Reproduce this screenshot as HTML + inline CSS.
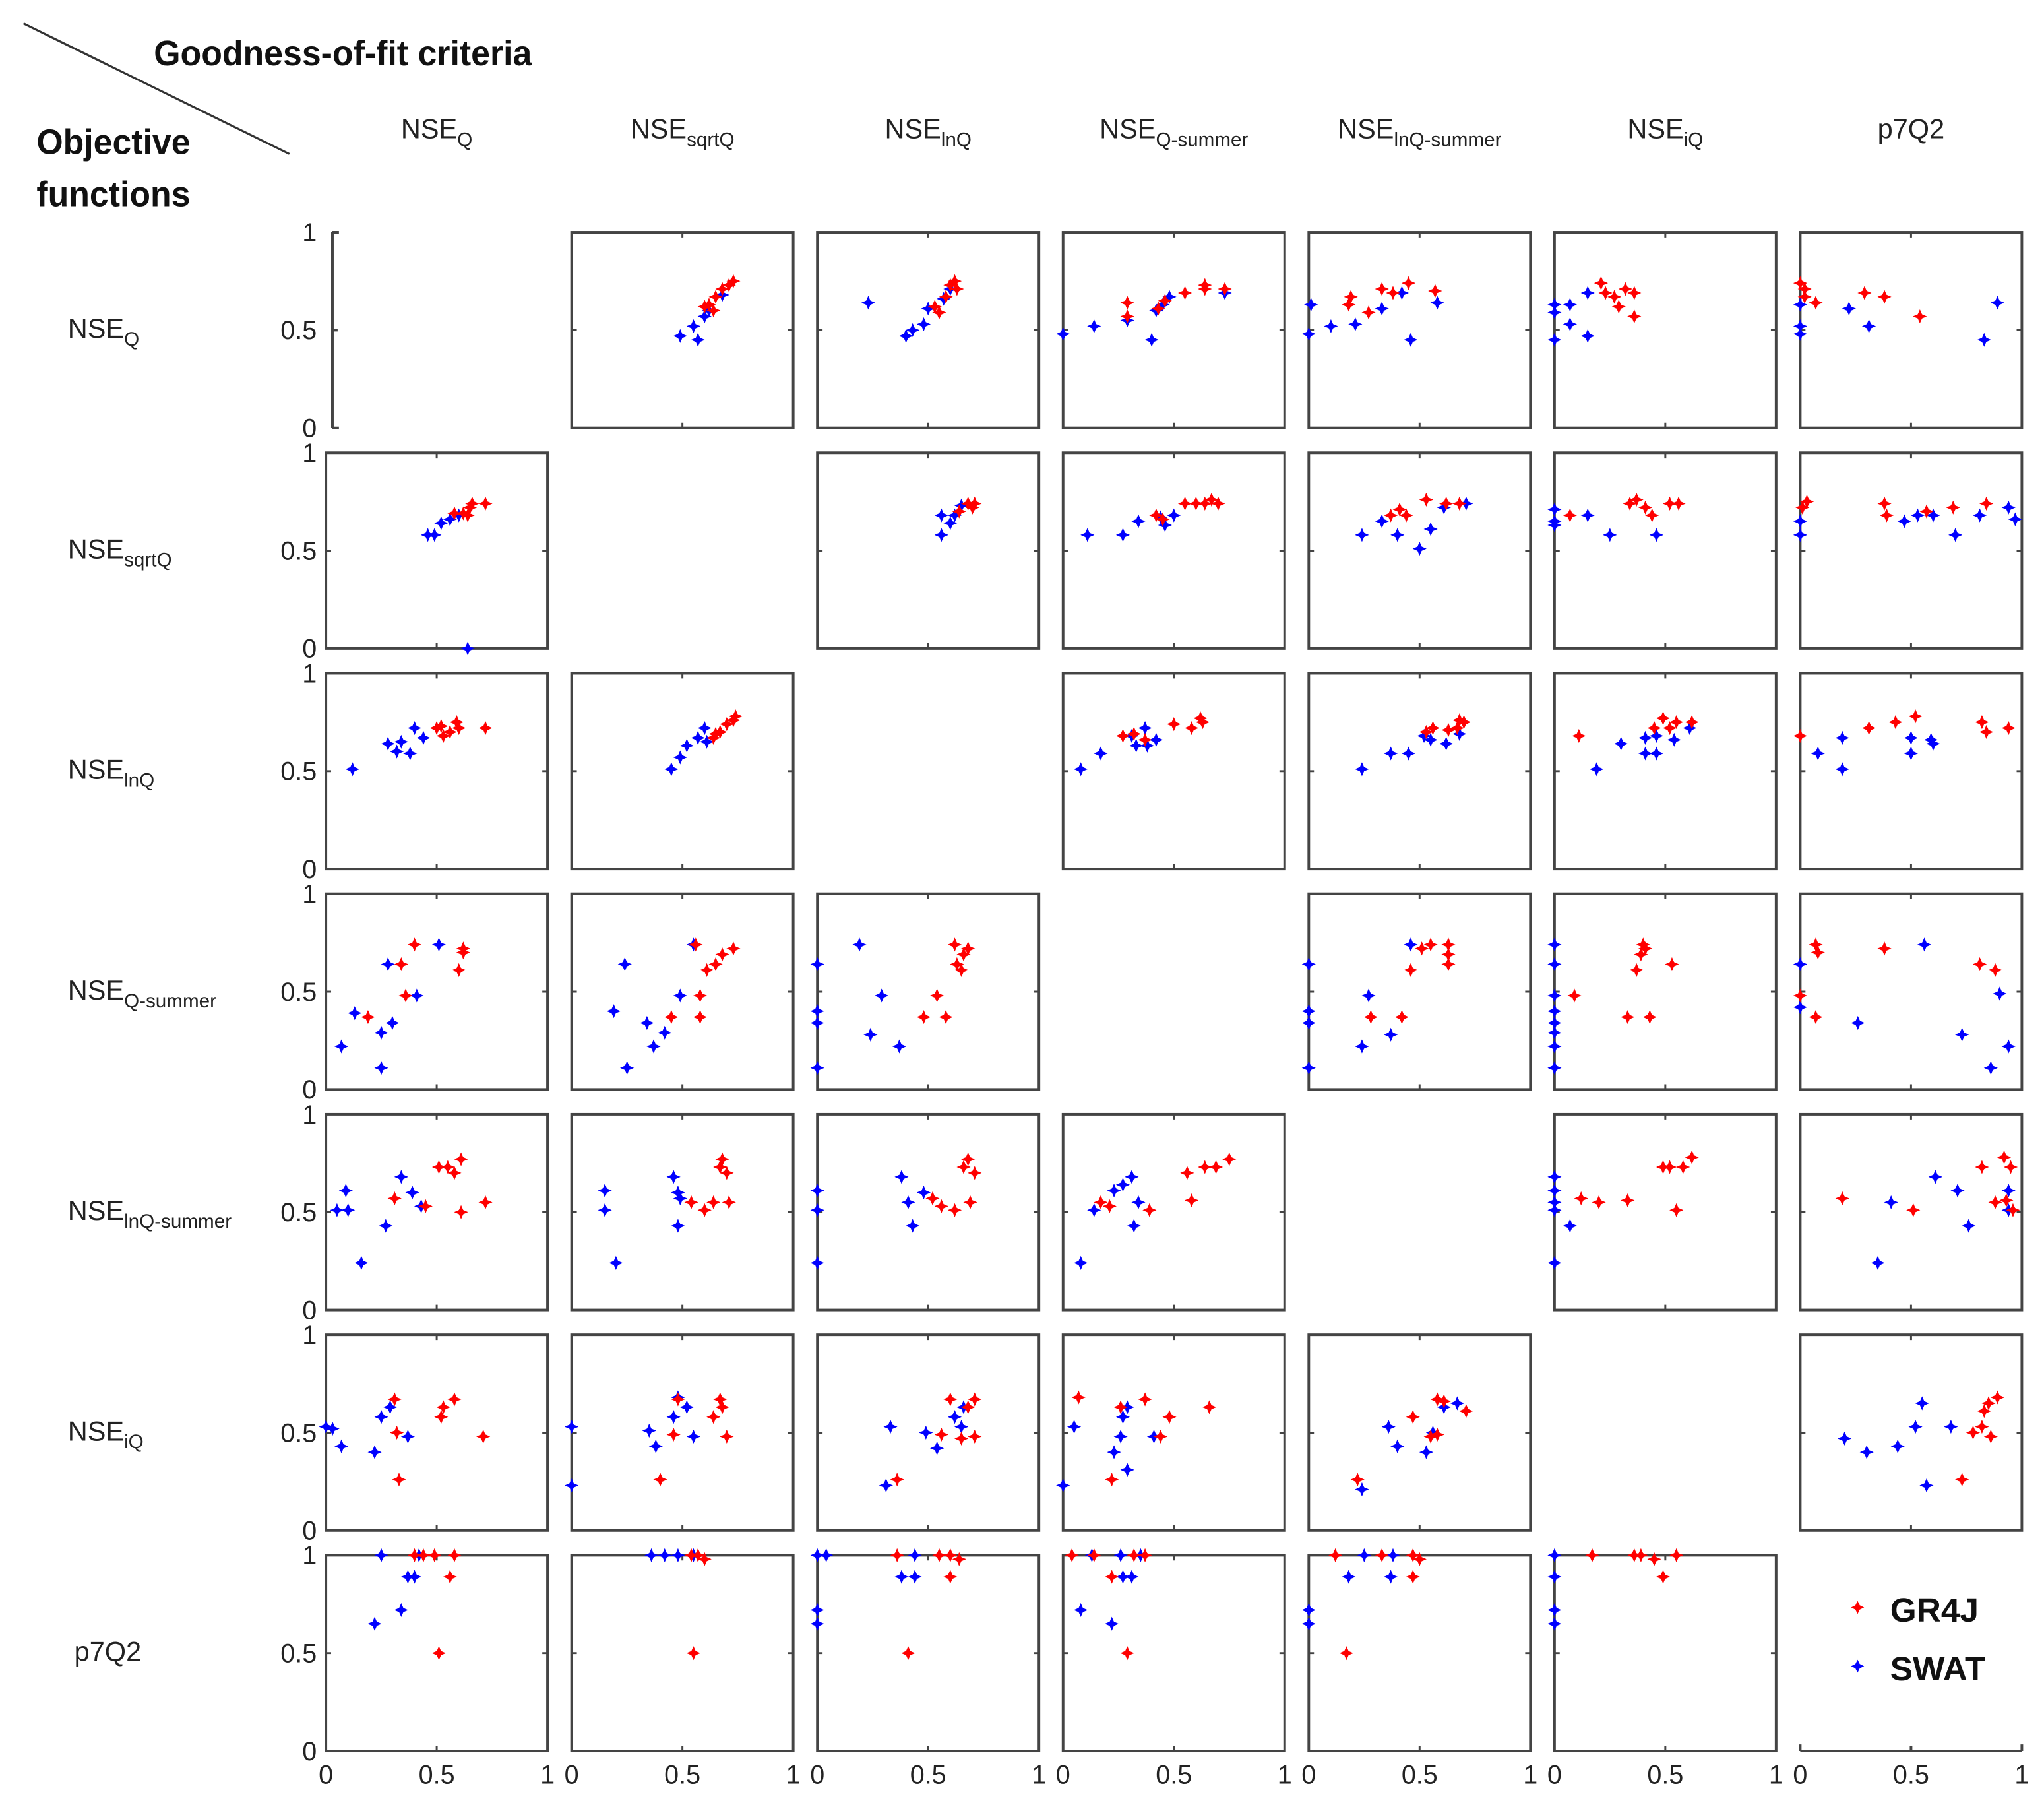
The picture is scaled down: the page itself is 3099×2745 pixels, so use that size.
<!DOCTYPE html>
<html><head><meta charset="utf-8"><style>html,body{margin:0;padding:0;background:#fff}svg{display:block}</style></head>
<body>
<svg id="chart" xmlns="http://www.w3.org/2000/svg" width="3099" height="2745" viewBox="0 0 1568 1388" preserveAspectRatio="none" font-family="'Liberation Sans', sans-serif">
<rect width="1568" height="1388" fill="#fff"/>
<line x1="18" y1="18" x2="222" y2="118" stroke="#333" stroke-width="1.6"/>
<text x="118" y="50" font-size="27" font-weight="bold" fill="#111" textLength="290" lengthAdjust="spacingAndGlyphs">Goodness-of-fit criteria</text>
<text x="28" y="118" font-size="27" font-weight="bold" fill="#111" textLength="118" lengthAdjust="spacingAndGlyphs">Objective</text>
<text x="28" y="158" font-size="27" font-weight="bold" fill="#111" textLength="118" lengthAdjust="spacingAndGlyphs">functions</text>
<g id="plots"></g>
<g>
<path d="M1425,1227 L1427.5,1232 L1425,1237 L1422.5,1232 Z M1420,1232 L1425,1229.5 L1430,1232 L1425,1234.5 Z" fill="#f00"/>
<text x="1450" y="1243" font-size="26" font-weight="bold" fill="#111">GR4J</text>
<path d="M1425,1272 L1427.5,1277 L1425,1282 L1422.5,1277 Z M1420,1277 L1425,1274.5 L1430,1277 L1425,1279.5 Z" fill="#00f"/>
<text x="1450" y="1288" font-size="26" font-weight="bold" fill="#111">SWAT</text>
</g>
</svg>
<script>
const rowNames = [["NSE","Q"],["NSE","sqrtQ"],["NSE","lnQ"],["NSE","Q-summer"],["NSE","lnQ-summer"],["NSE","iQ"],["p7Q2",""]];
const xTicks = [0, 0.5, 1];
const xTickLabels = ["0", "0.5", "1"];
const yTickLabels = ["0", "0.5", "1"];

const p12_red=[[0.71,0.73],[0.68,0.71],[0.65,0.67],[0.62,0.63],[0.64,0.6],[0.6,0.62],[0.73,0.75]];
const p12_blue=[[0.49,0.47],[0.55,0.52],[0.57,0.45],[0.62,0.6],[0.68,0.68],[0.6,0.57]];
const p13_red=[[0.55,0.59],[0.58,0.67],[0.6,0.73],[0.63,0.71],[0.53,0.62],[0.62,0.75]];
const p13_blue=[[0.23,0.64],[0.4,0.47],[0.43,0.5],[0.48,0.53],[0.5,0.61],[0.57,0.66],[0.6,0.71]];
const p14_red=[[0.29,0.64],[0.29,0.57],[0.46,0.65],[0.55,0.69],[0.64,0.71],[0.64,0.73],[0.73,0.71],[0.43,0.61]];
const p14_blue=[[0,0.48],[0.14,0.52],[0.29,0.55],[0.4,0.45],[0.42,0.6],[0.45,0.63],[0.48,0.67],[0.73,0.69]];
const p15_red=[[0.18,0.63],[0.19,0.67],[0.33,0.71],[0.38,0.69],[0.45,0.74],[0.57,0.7],[0.27,0.59]];
const p15_blue=[[0,0.48],[0.01,0.63],[0.1,0.52],[0.21,0.53],[0.33,0.61],[0.42,0.69],[0.46,0.45],[0.58,0.64]];
const p16_red=[[0.21,0.74],[0.23,0.69],[0.27,0.67],[0.29,0.62],[0.36,0.69],[0.36,0.57],[0.32,0.71]];
const p16_blue=[[0,0.63],[0,0.59],[0,0.45],[0.07,0.63],[0.07,0.53],[0.15,0.47],[0.15,0.69]];
const p17_red=[[0,0.74],[0.02,0.71],[0.07,0.64],[0.02,0.67],[0.29,0.69],[0.38,0.67],[0.54,0.57]];
const p17_blue=[[0,0.63],[0,0.52],[0,0.48],[0.22,0.61],[0.31,0.52],[0.83,0.45],[0.89,0.64]];

const p21_red=[[0.58,0.69],[0.62,0.69],[0.65,0.72],[0.66,0.74],[0.72,0.74],[0.64,0.68]];
const p21_blue=[[0.46,0.58],[0.49,0.58],[0.52,0.64],[0.56,0.66],[0.6,0.68],[0.64,0]];
const p23_red=[[0.68,0.74],[0.71,0.74],[0.7,0.72],[0.64,0.7]];
const p23_blue=[[0.56,0.58],[0.56,0.68],[0.6,0.64],[0.62,0.68],[0.65,0.73]];
const p24_red=[[0.42,0.68],[0.45,0.66],[0.55,0.74],[0.6,0.74],[0.64,0.74],[0.7,0.74],[0.67,0.76]];
const p24_blue=[[0.11,0.58],[0.27,0.58],[0.34,0.65],[0.44,0.67],[0.5,0.68],[0.46,0.63]];
const p25_red=[[0.37,0.68],[0.44,0.68],[0.53,0.76],[0.62,0.74],[0.68,0.74],[0.41,0.71]];
const p25_blue=[[0.24,0.58],[0.33,0.65],[0.4,0.58],[0.5,0.51],[0.55,0.61],[0.61,0.72],[0.71,0.74]];
const p26_red=[[0.07,0.68],[0.34,0.74],[0.37,0.76],[0.41,0.72],[0.44,0.68],[0.52,0.74],[0.56,0.74]];
const p26_blue=[[0,0.71],[0,0.65],[0,0.63],[0.15,0.68],[0.25,0.58],[0.46,0.58]];
const p27_red=[[0.01,0.72],[0.03,0.75],[0.38,0.74],[0.39,0.68],[0.57,0.7],[0.69,0.72],[0.84,0.74]];
const p27_blue=[[0,0.65],[0,0.58],[0.47,0.65],[0.53,0.68],[0.6,0.68],[0.7,0.58],[0.81,0.68],[0.94,0.72],[0.97,0.66]];

const p31_red=[[0.5,0.72],[0.53,0.68],[0.56,0.7],[0.59,0.75],[0.6,0.72],[0.72,0.72],[0.52,0.73]];
const p31_blue=[[0.12,0.51],[0.28,0.64],[0.32,0.6],[0.38,0.59],[0.34,0.65],[0.4,0.72],[0.44,0.67]];
const p32_red=[[0.64,0.67],[0.67,0.7],[0.7,0.74],[0.73,0.76],[0.74,0.78],[0.65,0.69]];
const p32_blue=[[0.45,0.51],[0.49,0.57],[0.52,0.63],[0.57,0.67],[0.6,0.72],[0.61,0.65]];
const p34_red=[[0.27,0.68],[0.32,0.69],[0.37,0.66],[0.5,0.74],[0.58,0.72],[0.63,0.75],[0.62,0.77]];
const p34_blue=[[0.08,0.51],[0.17,0.59],[0.31,0.68],[0.33,0.63],[0.37,0.72],[0.38,0.63],[0.42,0.66]];
const p35_red=[[0.53,0.7],[0.56,0.72],[0.63,0.71],[0.68,0.76],[0.7,0.75],[0.67,0.72]];
const p35_blue=[[0.24,0.51],[0.37,0.59],[0.45,0.59],[0.52,0.68],[0.55,0.66],[0.62,0.64],[0.68,0.69]];
const p36_red=[[0.11,0.68],[0.45,0.72],[0.49,0.77],[0.52,0.72],[0.55,0.75],[0.62,0.75]];
const p36_blue=[[0.19,0.51],[0.3,0.64],[0.41,0.59],[0.46,0.59],[0.41,0.67],[0.46,0.68],[0.54,0.66],[0.61,0.72]];
const p37_red=[[0,0.68],[0.31,0.72],[0.43,0.75],[0.52,0.78],[0.82,0.75],[0.84,0.7],[0.94,0.72]];
const p37_blue=[[0.08,0.59],[0.19,0.51],[0.19,0.67],[0.5,0.59],[0.5,0.67],[0.59,0.66],[0.6,0.64]];

const p41_red=[[0.19,0.37],[0.34,0.64],[0.36,0.48],[0.4,0.74],[0.6,0.61],[0.62,0.7],[0.62,0.72]];
const p41_blue=[[0.07,0.22],[0.13,0.39],[0.25,0.29],[0.25,0.11],[0.28,0.64],[0.3,0.34],[0.41,0.48],[0.51,0.74]];
const p42_red=[[0.45,0.37],[0.58,0.48],[0.58,0.37],[0.61,0.61],[0.65,0.64],[0.68,0.69],[0.73,0.72],[0.56,0.74]];
const p42_blue=[[0.19,0.4],[0.24,0.64],[0.25,0.11],[0.34,0.34],[0.37,0.22],[0.42,0.29],[0.49,0.48],[0.55,0.74]];
const p43_red=[[0.48,0.37],[0.54,0.48],[0.58,0.37],[0.62,0.74],[0.65,0.61],[0.66,0.69],[0.68,0.72],[0.63,0.64]];
const p43_blue=[[0,0.64],[0,0.4],[0,0.34],[0,0.11],[0.19,0.74],[0.24,0.28],[0.29,0.48],[0.37,0.22]];
const p45_red=[[0.28,0.37],[0.42,0.37],[0.46,0.61],[0.51,0.72],[0.55,0.74],[0.63,0.74],[0.63,0.64],[0.63,0.69]];
const p45_blue=[[0,0.64],[0,0.4],[0,0.34],[0,0.11],[0.24,0.22],[0.27,0.48],[0.37,0.28],[0.46,0.74]];
const p46_red=[[0.09,0.48],[0.33,0.37],[0.39,0.69],[0.4,0.74],[0.41,0.72],[0.43,0.37],[0.37,0.61],[0.53,0.64]];
const p46_blue=[[0,0.74],[0,0.64],[0,0.48],[0,0.4],[0,0.34],[0,0.29],[0,0.22],[0,0.11]];
const p47_red=[[0,0.48],[0.07,0.74],[0.08,0.7],[0.07,0.37],[0.38,0.72],[0.81,0.64],[0.88,0.61]];
const p47_blue=[[0,0.64],[0,0.42],[0.26,0.34],[0.56,0.74],[0.73,0.28],[0.86,0.11],[0.9,0.49],[0.94,0.22]];

const p51_red=[[0.31,0.57],[0.45,0.53],[0.51,0.73],[0.55,0.73],[0.58,0.7],[0.61,0.77],[0.61,0.5],[0.72,0.55]];
const p51_blue=[[0.05,0.51],[0.09,0.61],[0.1,0.51],[0.16,0.24],[0.27,0.43],[0.34,0.68],[0.39,0.6],[0.43,0.53]];
const p52_red=[[0.54,0.55],[0.6,0.51],[0.67,0.73],[0.68,0.77],[0.7,0.7],[0.71,0.55],[0.64,0.55]];
const p52_blue=[[0.15,0.61],[0.15,0.51],[0.2,0.24],[0.46,0.68],[0.48,0.6],[0.48,0.43],[0.49,0.57]];
const p53_red=[[0.52,0.57],[0.56,0.53],[0.62,0.51],[0.66,0.73],[0.68,0.77],[0.71,0.7],[0.69,0.55]];
const p53_blue=[[0,0.61],[0,0.51],[0,0.24],[0.38,0.68],[0.41,0.55],[0.43,0.43],[0.48,0.6]];
const p54_red=[[0.17,0.55],[0.21,0.53],[0.39,0.51],[0.56,0.7],[0.58,0.56],[0.64,0.73],[0.69,0.73],[0.75,0.77]];
const p54_blue=[[0.08,0.24],[0.14,0.51],[0.23,0.61],[0.27,0.64],[0.31,0.68],[0.34,0.55],[0.32,0.43]];
const p56_red=[[0.12,0.57],[0.2,0.55],[0.33,0.56],[0.49,0.73],[0.52,0.73],[0.55,0.51],[0.58,0.73],[0.62,0.78]];
const p56_blue=[[0,0.68],[0,0.61],[0,0.55],[0,0.51],[0,0.24],[0.07,0.43]];
const p57_red=[[0.19,0.57],[0.51,0.51],[0.82,0.73],[0.88,0.55],[0.92,0.78],[0.95,0.73],[0.96,0.51],[0.93,0.56]];
const p57_blue=[[0.35,0.24],[0.41,0.55],[0.61,0.68],[0.71,0.61],[0.76,0.43],[0.94,0.61],[0.94,0.51]];

const p61_red=[[0.31,0.67],[0.32,0.5],[0.33,0.26],[0.52,0.58],[0.53,0.63],[0.58,0.67],[0.71,0.48]];
const p61_blue=[[0,0.53],[0.03,0.52],[0.07,0.43],[0.22,0.4],[0.25,0.58],[0.29,0.63],[0.37,0.48]];
const p62_red=[[0.4,0.26],[0.46,0.49],[0.48,0.67],[0.64,0.58],[0.67,0.67],[0.68,0.63],[0.7,0.48]];
const p62_blue=[[0,0.53],[0,0.23],[0.35,0.51],[0.38,0.43],[0.46,0.58],[0.48,0.68],[0.52,0.63],[0.55,0.48]];
const p63_red=[[0.36,0.26],[0.56,0.49],[0.6,0.67],[0.65,0.47],[0.68,0.63],[0.71,0.67],[0.71,0.48]];
const p63_blue=[[0.31,0.23],[0.33,0.53],[0.49,0.5],[0.54,0.42],[0.62,0.58],[0.65,0.53],[0.66,0.63]];
const p64_red=[[0.07,0.68],[0.22,0.26],[0.26,0.63],[0.37,0.67],[0.44,0.48],[0.48,0.58],[0.66,0.63]];
const p64_blue=[[0,0.23],[0.05,0.53],[0.23,0.4],[0.26,0.48],[0.27,0.58],[0.29,0.63],[0.41,0.48],[0.29,0.31]];
const p65_red=[[0.22,0.26],[0.47,0.58],[0.55,0.48],[0.58,0.67],[0.61,0.66],[0.71,0.61],[0.58,0.49]];
const p65_blue=[[0.24,0.21],[0.36,0.53],[0.4,0.43],[0.53,0.4],[0.56,0.5],[0.61,0.63],[0.67,0.65]];
const p67_red=[[0.73,0.26],[0.78,0.5],[0.82,0.53],[0.83,0.61],[0.86,0.48],[0.85,0.65],[0.89,0.68]];
const p67_blue=[[0.2,0.47],[0.3,0.4],[0.44,0.43],[0.52,0.53],[0.55,0.65],[0.57,0.23],[0.68,0.53]];

const p71_red=[[0.4,1],[0.49,1],[0.51,0.5],[0.56,0.89],[0.58,1],[0.44,1]];
const p71_blue=[[0.22,0.65],[0.25,1],[0.34,0.72],[0.37,0.89],[0.4,0.89],[0.42,1]];
const p72_red=[[0.57,1],[0.6,0.98],[0.55,0.5],[0.54,1]];
const p72_blue=[[0.36,1],[0.42,1],[0.48,1],[0.55,1]];
const p73_red=[[0.36,1],[0.41,0.5],[0.55,1],[0.6,1],[0.64,0.98],[0.6,0.89]];
const p73_blue=[[0,0.72],[0,0.65],[0,1],[0.04,1],[0.38,0.89],[0.44,0.89],[0.44,1]];
const p74_red=[[0.04,1],[0.14,1],[0.22,0.89],[0.29,0.5],[0.32,1],[0.37,1]];
const p74_blue=[[0.08,0.72],[0.13,1],[0.22,0.65],[0.26,1],[0.27,0.89],[0.31,0.89],[0.35,1]];
const p75_red=[[0.12,1],[0.17,0.5],[0.33,1],[0.47,1],[0.47,0.89],[0.5,0.98]];
const p75_blue=[[0,0.72],[0,0.65],[0.18,0.89],[0.25,1],[0.37,0.89],[0.38,1]];
const p76_red=[[0.17,1],[0.36,1],[0.39,1],[0.45,0.98],[0.49,0.89],[0.55,1]];
const p76_blue=[[0,1],[0,0.89],[0,0.72],[0,0.65]];

const panelList = [
 [0,1,p12_red,p12_blue],[0,2,p13_red,p13_blue],[0,3,p14_red,p14_blue],[0,4,p15_red,p15_blue],[0,5,p16_red,p16_blue],[0,6,p17_red,p17_blue],
 [1,0,p21_red,p21_blue],[1,2,p23_red,p23_blue],[1,3,p24_red,p24_blue],[1,4,p25_red,p25_blue],[1,5,p26_red,p26_blue],[1,6,p27_red,p27_blue],
 [2,0,p31_red,p31_blue],[2,1,p32_red,p32_blue],[2,3,p34_red,p34_blue],[2,4,p35_red,p35_blue],[2,5,p36_red,p36_blue],[2,6,p37_red,p37_blue],
 [3,0,p41_red,p41_blue],[3,1,p42_red,p42_blue],[3,2,p43_red,p43_blue],[3,4,p45_red,p45_blue],[3,5,p46_red,p46_blue],[3,6,p47_red,p47_blue],
 [4,0,p51_red,p51_blue],[4,1,p52_red,p52_blue],[4,2,p53_red,p53_blue],[4,3,p54_red,p54_blue],[4,5,p56_red,p56_blue],[4,6,p57_red,p57_blue],
 [5,0,p61_red,p61_blue],[5,1,p62_red,p62_blue],[5,2,p63_red,p63_blue],[5,3,p64_red,p64_blue],[5,4,p65_red,p65_blue],[5,6,p67_red,p67_blue],
 [6,0,p71_red,p71_blue],[6,1,p72_red,p72_blue],[6,2,p73_red,p73_blue],[6,3,p74_red,p74_blue],[6,4,p75_red,p75_blue],[6,5,p76_red,p76_blue]
];

const NS='http://www.w3.org/2000/svg';
const g=document.getElementById('plots');
const X0=250, PX=188.5, W=170, Y0=178, PY=169, H=150;
function px(c,v){return X0+c*PX+v*W;}
function py(r,v){return Y0+r*PY+H-v*H;}
function mk(tag,attrs,parent){const e=document.createElementNS(NS,tag);for(const k in attrs)e.setAttribute(k,attrs[k]);(parent||g).appendChild(e);return e;}
function txt(s,x,y,size,anchor,parent){const t=mk('text',{x:x,y:y,'font-size':size,'text-anchor':anchor||'start',fill:'#222'},parent);t.textContent=s;return t;}

rowNames.forEach((n,c)=>{
  const t=mk('text',{x:px(c,0.5),y:106,'font-size':21,'text-anchor':'middle',fill:'#222'});
  
  
  const a=document.createElementNS(NS,'tspan');a.textContent=n[0];t.appendChild(a);
  if(n[1]){const b=document.createElementNS(NS,'tspan');b.setAttribute('font-size',15);b.setAttribute('dy',6);b.textContent=n[1];t.appendChild(b);}
});
rowNames.forEach((n,r)=>{
  const yc=py(r,0.5)+6;
  const t=mk('text',{x:n[1]?52:57,y:yc,'font-size':21,fill:'#222'});
  
  
  const a=document.createElementNS(NS,'tspan');a.textContent=n[0];t.appendChild(a);
  if(n[1]){const b=document.createElementNS(NS,'tspan');b.setAttribute('font-size',15);b.setAttribute('dy',6);b.textContent=n[1];t.appendChild(b);}
  xTicks.forEach((v,i)=>{
    const l=txt(yTickLabels[i],243,py(r,v)+7,20,'end');
    
    
  });
});
for(let c=0;c<7;c++){
  xTicks.forEach((v,i)=>{
    const l=txt(xTickLabels[i],px(c,v),1367,20,'middle');
    
    
  });
}
const ax=mk('path',{d:`M${px(0,0)+5},${py(0,1)} L${px(0,0)+5},${py(0,0)} M${px(0,0)+5},${py(0,1)} h5 M${px(0,0)+5},${py(0,0.5)} h4 M${px(0,0)+5},${py(0,0)} h5`,stroke:'#444','stroke-width':2,fill:'none'});


const ax2=mk('path',{d:`M${px(6,0)},${py(6,0)} H${px(6,1)} M${px(6,0)},${py(6,0)} v-5 M${px(6,0.5)},${py(6,0)} v-4 M${px(6,1)},${py(6,0)} v-5`,stroke:'#444','stroke-width':2,fill:'none'});



function star(x,y,color,parent,name){
  const s=4.6,t=2;
  const p=mk('path',{d:`M${x},${y-s} L${x+t},${y} L${x},${y+s} L${x-t},${y} Z M${x-s},${y} L${x},${y-t} L${x+s},${y} L${x},${y+t} Z`,fill:color,stroke:color,'stroke-width':0.6},parent);
  
  
}
panelList.forEach(([r,c,red,blue])=>{
  const pg=mk('g',{});
  
  
  const x=px(c,0),y=py(r,1);
  mk('rect',{x:x,y:y,width:W,height:H,fill:'none',stroke:'#444','stroke-width':2},pg);
  mk('path',{d:`M${x},${py(r,0.5)} h4 M${x+W},${py(r,0.5)} h-4 M${px(c,0.5)},${y} v4 M${px(c,0.5)},${y+H} v-4`,stroke:'#444','stroke-width':1.5},pg);
  blue.forEach(d=>star(px(c,d[0]),py(r,d[1]),'#0000ff',pg,'swat-point'));
  red.forEach(d=>star(px(c,d[0]),py(r,d[1]),'#ff0000',pg,'gr4j-point'));
});
</script>
</body></html>
